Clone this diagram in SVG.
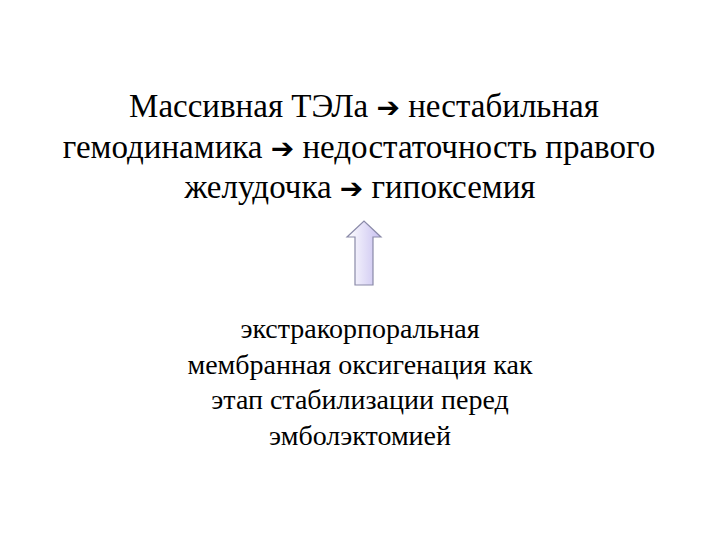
<svg xmlns="http://www.w3.org/2000/svg" width="720" height="540" viewBox="0 0 720 540">
<defs>
<linearGradient id="g" x1="0" y1="0" x2="1" y2="0">
<stop offset="0" stop-color="#ffffff"/>
<stop offset="1" stop-color="#c8c0f0"/>
</linearGradient>
</defs>
<rect width="720" height="540" fill="#fff"/>
<g id="top" font-size="33" text-anchor="middle" fill="#000">
<text x="364" y="117" font-family="Liberation Serif">Массивная ТЭЛа  <tspan font-family="DejaVu Sans" font-weight="bold" font-size="28">➔</tspan> нестабильная</text>
<text x="359" y="158" font-family="Liberation Serif">гемодинамика <tspan font-family="DejaVu Sans" font-weight="bold" font-size="28">➔</tspan> недостаточность правого</text>
<text x="360" y="198" font-family="Liberation Serif">желудочка <tspan font-family="DejaVu Sans" font-weight="bold" font-size="28">➔</tspan> гипоксемия</text>
</g>
<g id="connectors">
<path d="M355,285 L355,237 L347,237 L364,221 L381,237 L373,237 L373,285 Z" fill="url(#g)" stroke="#8a8aa8" stroke-width="1.2"/>
</g>
<g id="bottom" font-size="28" text-anchor="middle" fill="#000">
<text x="360" y="338" font-family="Liberation Serif">экстракорпоральная</text>
<text x="360" y="374" font-family="Liberation Serif">мембранная оксигенация как</text>
<text x="360" y="409" font-family="Liberation Serif">этап стабилизации перед</text>
<text x="360" y="445" font-family="Liberation Serif">эмболэктомией</text>
</g>
</svg>
